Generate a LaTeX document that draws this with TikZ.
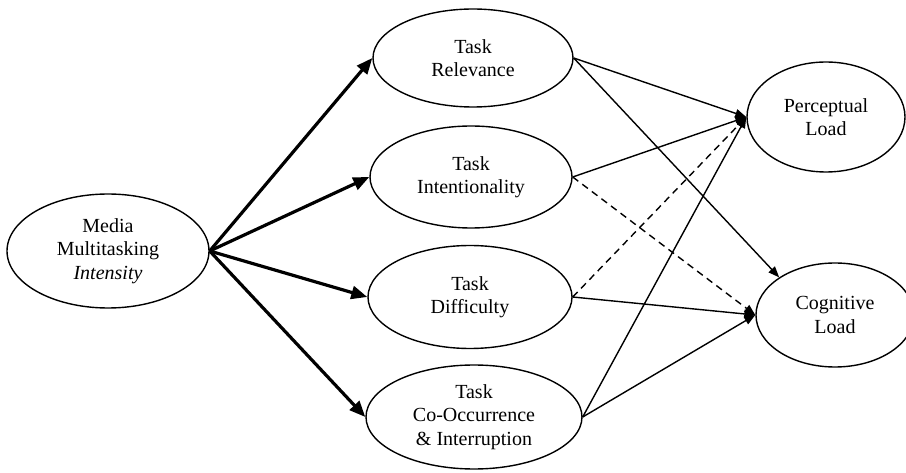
\documentclass[tikz,border=0pt]{standalone}
\usepackage{fontspec}
\setmainfont{Liberation Serif}
\usetikzlibrary{shapes.geometric,arrows.meta}
\begin{document}
\begin{tikzpicture}[x=1pt,y=-1pt,
  oval/.style={draw,ellipse,line width=1.4pt,inner sep=0pt,align=center,
    font=\fontsize{20}{23.5}\selectfont},
  thick arr/.style={line width=3.2pt,-{Triangle[length=16pt,width=13pt]}},
  thin arr/.style={line width=1.4pt,-{Triangle[length=11pt,width=8.5pt]}},
  dash arr/.style={thin arr,dash pattern=on 7pt off 5pt}]
\useasboundingbox (0,0) rectangle (906,473);
\fill[white] (0,0) rectangle (906,473);
\node[oval,minimum width=202pt,minimum height=114pt] (media) at (108,251) {Media\\Multitasking\\\textit{Intensity}};
\node[oval,minimum width=200pt,minimum height=98pt] (rel) at (473,58) {Task\\Relevance};
\node[oval,minimum width=202pt,minimum height=102pt] (int) at (471,177) {Task\\Intentionality};
\node[oval,minimum width=204pt,minimum height=103pt] (dif) at (470,297) {Task\\Difficulty};
\node[oval,minimum width=216pt,minimum height=104pt] (coo) at (474,417) {Task\\Co-Occurrence\\\& Interruption};
\node[oval,minimum width=158pt,minimum height=110pt] (per) at (826,117) {Perceptual\\Load};
\node[oval,minimum width=158pt,minimum height=104pt] (cog) at (835,315) {Cognitive\\Load};
\draw[thick arr] (media.east) -- (rel.west);
\draw[thick arr] (media.east) -- (int.west);
\draw[thick arr] (media.east) -- (dif.west);
\draw[thick arr] (media.east) -- (coo.west);
\draw[thin arr] (rel.east) -- (per.west);
\draw[thin arr] (rel.east) -- (cog.146);
\draw[thin arr] (int.east) -- (per.west);
\draw[dash arr] (int.east) -- (cog.west);
\draw[dash arr] (dif.east) -- (per.west);
\draw[thin arr] (dif.east) -- (cog.west);
\draw[thin arr] (coo.east) -- (per.west);
\draw[thin arr] (coo.east) -- (cog.west);
\end{tikzpicture}
\end{document}
